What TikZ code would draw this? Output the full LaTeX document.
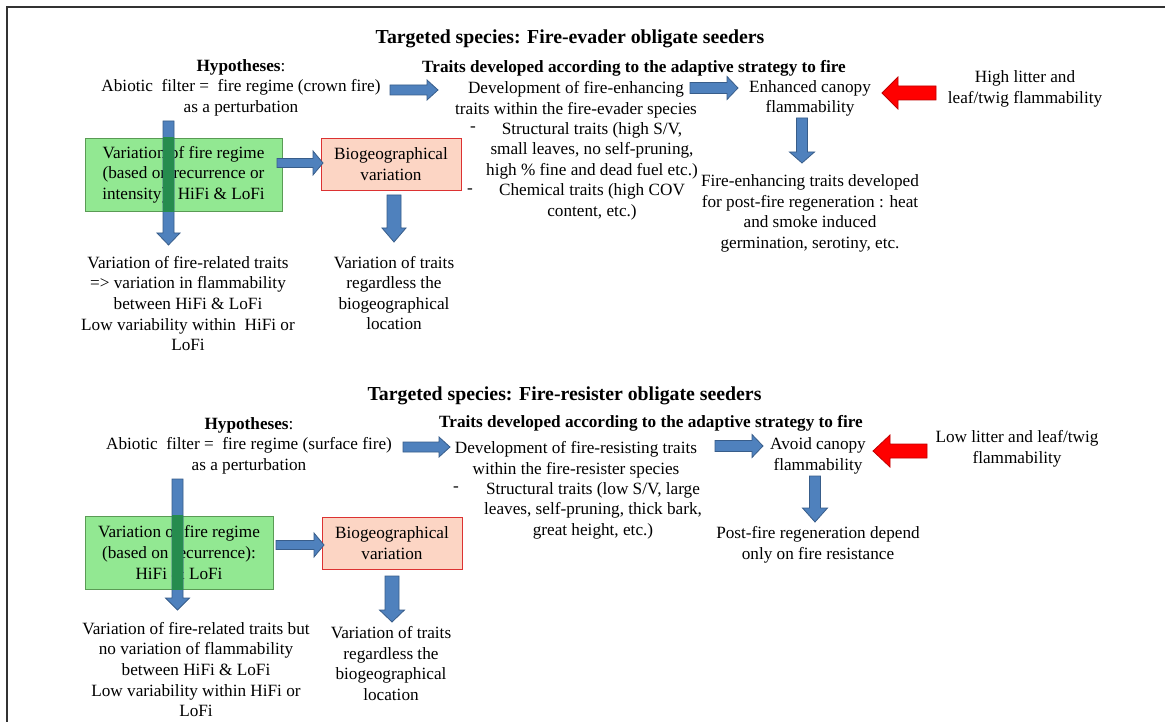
\documentclass[tikz,border=0pt]{standalone}
\usepackage{fontspec}
\setmainfont{Liberation Serif}
\usetikzlibrary{calc}
\definecolor{arrblue}{RGB}{79,129,189}
\definecolor{arrblueD}{RGB}{56,93,138}
\definecolor{arrred}{RGB}{255,0,0}
\definecolor{arrredD}{RGB}{192,0,0}
\definecolor{boxgreen}{RGB}{146,232,146}
\definecolor{boxgreenD}{RGB}{90,155,85}
\definecolor{ovgreen}{RGB}{38,140,78}
\definecolor{boxpeach}{RGB}{252,213,196}
\definecolor{boxpeachD}{RGB}{220,50,50}
\definecolor{framegray}{RGB}{50,50,50}
\newcommand\fsnorm{\fontsize{17.2}{20.6}\selectfont}
\newcommand\fstitle{\fontsize{19.8}{23}\selectfont\bfseries}
% block arrow: [opts]{start}{end}{shaft half}{head half}{head length}
\newcommand\blockarrow[6][]{%
  \draw[#1] ($(#2)!#4!90:(#3)$) -- ($(#3)!#6!(#2)!#4!-90:(#2)$)
    -- ($(#3)!#6!(#2)!#5!-90:(#2)$) -- (#3)
    -- ($(#3)!#6!(#2)!#5!90:(#2)$) -- ($(#3)!#6!(#2)!#4!90:(#2)$)
    -- ($(#2)!#4!-90:(#3)$) -- cycle;}
\tikzset{
  txt/.style={inner sep=0pt, align=center, font=\fsnorm, yshift=-1.5pt},
  ttl/.style={inner sep=0pt, align=center, font=\fstitle, yshift=-2.5pt},
  hdr/.style={inner sep=0pt, align=center, font=\fsnorm\bfseries, yshift=-1.5pt},
  greenbox/.style={draw=boxgreenD, fill=boxgreen, line width=0.8pt, inner sep=0pt, align=center, font=\fsnorm},
  peachbox/.style={draw=boxpeachD, fill=boxpeach, line width=0.8pt, inner sep=0pt, align=center, font=\fsnorm},
  bluearr/.style={draw=arrblueD, fill=arrblue, line width=0.8pt},
  redarr/.style={draw=arrredD, fill=arrred, line width=0.8pt},
}
\begin{document}
\begin{tikzpicture}[x=1pt, y=-1pt]
\clip (0,0) rectangle (1165,722);
\fill[white] (0,0) rectangle (1165,722);
\draw[framegray, line width=1.5pt] (7,7) rectangle (1190,745);

% ================= TOP SECTION =================
\node[ttl] (title1) at (570,36) {Targeted species: Fire-evader obligate seeders};
\node[txt] (hyp1) at (241,86) {\textbf{Hypotheses}:\\Abiotic\ \ filter =\ \ fire regime (crown fire)\\as a perturbation};
\node[hdr] (thead1) at (634,67) {Traits developed according to the adaptive strategy to fire};
\node[txt] (dev1) at (576,98) {Development of fire-enhancing\\traits within the fire-evader species};
\node[txt] (dash1a) at (473,128) {-};
\node[txt] (struct1) at (592,149) {Structural traits (high S/V,\\small leaves, no self-pruning,\\high \% fine and dead fuel etc.)};
\node[txt] (dash1b) at (470,190) {-};
\node[txt] (chem1) at (592,200.5) {Chemical traits (high COV\\content, etc.)};
\node[txt] (enh1) at (810,97) {Enhanced canopy\\flammability};
\node[txt] (high1) at (1025,87.5) {High litter and\\leaf/twig flammability};
\node[txt] (fe1) at (810,212) {Fire-enhancing traits developed\\for post-fire regeneration : heat\\and smoke induced\\germination, serotiny, etc.};
\node[greenbox, minimum width=197pt, minimum height=73pt] (green1) at (183.5,174.5) {Variation of fire regime\\(based on recurrence or\\intensity): HiFi \& LoFi};
\node[peachbox, minimum width=140pt, minimum height=52pt] (bio1) at (391,164) {Biogeographical\\variation};
\node[txt] (left1) at (188,302) {Variation of fire-related traits\\=> variation in flammability\\between HiFi \& LoFi\\Low variability within\ \ HiFi or\\LoFi};
\node[txt] (right1) at (394,291.5) {Variation of traits\\regardless the\\biogeographical\\location};

\coordinate (a1s) at (390,90);   \coordinate (a1e) at (438,90);
\coordinate (a2s) at (690,88);   \coordinate (a2e) at (738,88);
\coordinate (r1s) at (936,93);   \coordinate (r1e) at (882,93);
\coordinate (a3s) at (802,118);  \coordinate (a3e) at (802,163);
\coordinate (v1s) at (168.5,121);\coordinate (v1e) at (168.5,245);
\coordinate (a4s) at (277,163);  \coordinate (a4e) at (323,163);
\coordinate (a5s) at (394,195);  \coordinate (a5e) at (394,242);

\blockarrow[bluearr]{a1s}{a1e}{5pt}{10pt}{11pt}
\blockarrow[bluearr]{a2s}{a2e}{5.5pt}{11.5pt}{11pt}
\blockarrow[redarr]{r1s}{r1e}{7pt}{16pt}{16pt}
\blockarrow[bluearr]{a3s}{a3e}{5.5pt}{12.5pt}{11pt}
\blockarrow[bluearr]{v1s}{v1e}{5.5pt}{11.5pt}{12pt}
\begin{scope}
  \clip (green1.north west) rectangle (green1.south east);
  \blockarrow[fill=ovgreen, draw=none]{v1s}{v1e}{5.5pt}{11.5pt}{12pt}
\end{scope}
\blockarrow[bluearr]{a4s}{a4e}{4.5pt}{12pt}{10pt}
\blockarrow[bluearr]{a5s}{a5e}{7pt}{12pt}{14pt}

% ================= BOTTOM SECTION =================
\node[ttl] (title2) at (564.5,393) {Targeted species: Fire-resister obligate seeders};
\node[txt] (hyp2) at (249,444) {\textbf{Hypotheses}:\\Abiotic\ \ filter =\ \ fire regime (surface fire)\\as a perturbation};
\node[hdr] (thead2) at (651,422) {Traits developed according to the adaptive strategy to fire};
\node[txt] (dev2) at (576,458) {Development of fire-resisting traits\\within the fire-resister species};
\node[txt] (dash2) at (456,488) {-};
\node[txt] (struct2) at (593,509) {Structural traits (low S/V, large\\leaves, self-pruning, thick bark,\\great height, etc.)};
\node[txt] (avoid2) at (818,454.5) {Avoid canopy\\flammability};
\node[txt] (low2) at (1017,447) {Low litter and leaf/twig\\flammability};
\node[txt] (post2) at (818,543) {Post-fire regeneration depend\\only on fire resistance};
\node[greenbox, minimum width=188pt, minimum height=73pt] (green2) at (179,552.5) {Variation of fire regime\\(based on recurrence):\\HiFi \& LoFi};
\node[peachbox, minimum width=140pt, minimum height=52pt] (bio2) at (392,543) {Biogeographical\\variation};
\node[txt] (left2) at (196,668) {Variation of fire-related traits but\\no variation of flammability\\between HiFi \& LoFi\\Low variability within HiFi or\\LoFi};
\node[txt] (right2) at (391,662) {Variation of traits\\regardless the\\biogeographical\\location};

\coordinate (b1s) at (403,447);  \coordinate (b1e) at (450,447);
\coordinate (b2s) at (715,446);  \coordinate (b2e) at (763,446);
\coordinate (r2s) at (927,451);  \coordinate (r2e) at (873,451);
\coordinate (b3s) at (815,476);  \coordinate (b3e) at (815,522);
\coordinate (v2s) at (177.5,479);\coordinate (v2e) at (177.5,610);
\coordinate (b4s) at (276,545);  \coordinate (b4e) at (324,545);
\coordinate (b5s) at (392,576);  \coordinate (b5e) at (392,622);

\blockarrow[bluearr]{b1s}{b1e}{5pt}{10pt}{11pt}
\blockarrow[bluearr]{b2s}{b2e}{5.5pt}{11.5pt}{11pt}
\blockarrow[redarr]{r2s}{r2e}{7pt}{16pt}{17pt}
\blockarrow[bluearr]{b3s}{b3e}{5.5pt}{12.5pt}{14pt}
\blockarrow[bluearr]{v2s}{v2e}{5.5pt}{12pt}{12pt}
\begin{scope}
  \clip (green2.north west) rectangle (green2.south east);
  \blockarrow[fill=ovgreen, draw=none]{v2s}{v2e}{5.5pt}{12pt}{12pt}
\end{scope}
\blockarrow[bluearr]{b4s}{b4e}{4.5pt}{12pt}{10pt}
\blockarrow[bluearr]{b5s}{b5e}{7pt}{12.5pt}{12pt}
\end{tikzpicture}
\end{document}
